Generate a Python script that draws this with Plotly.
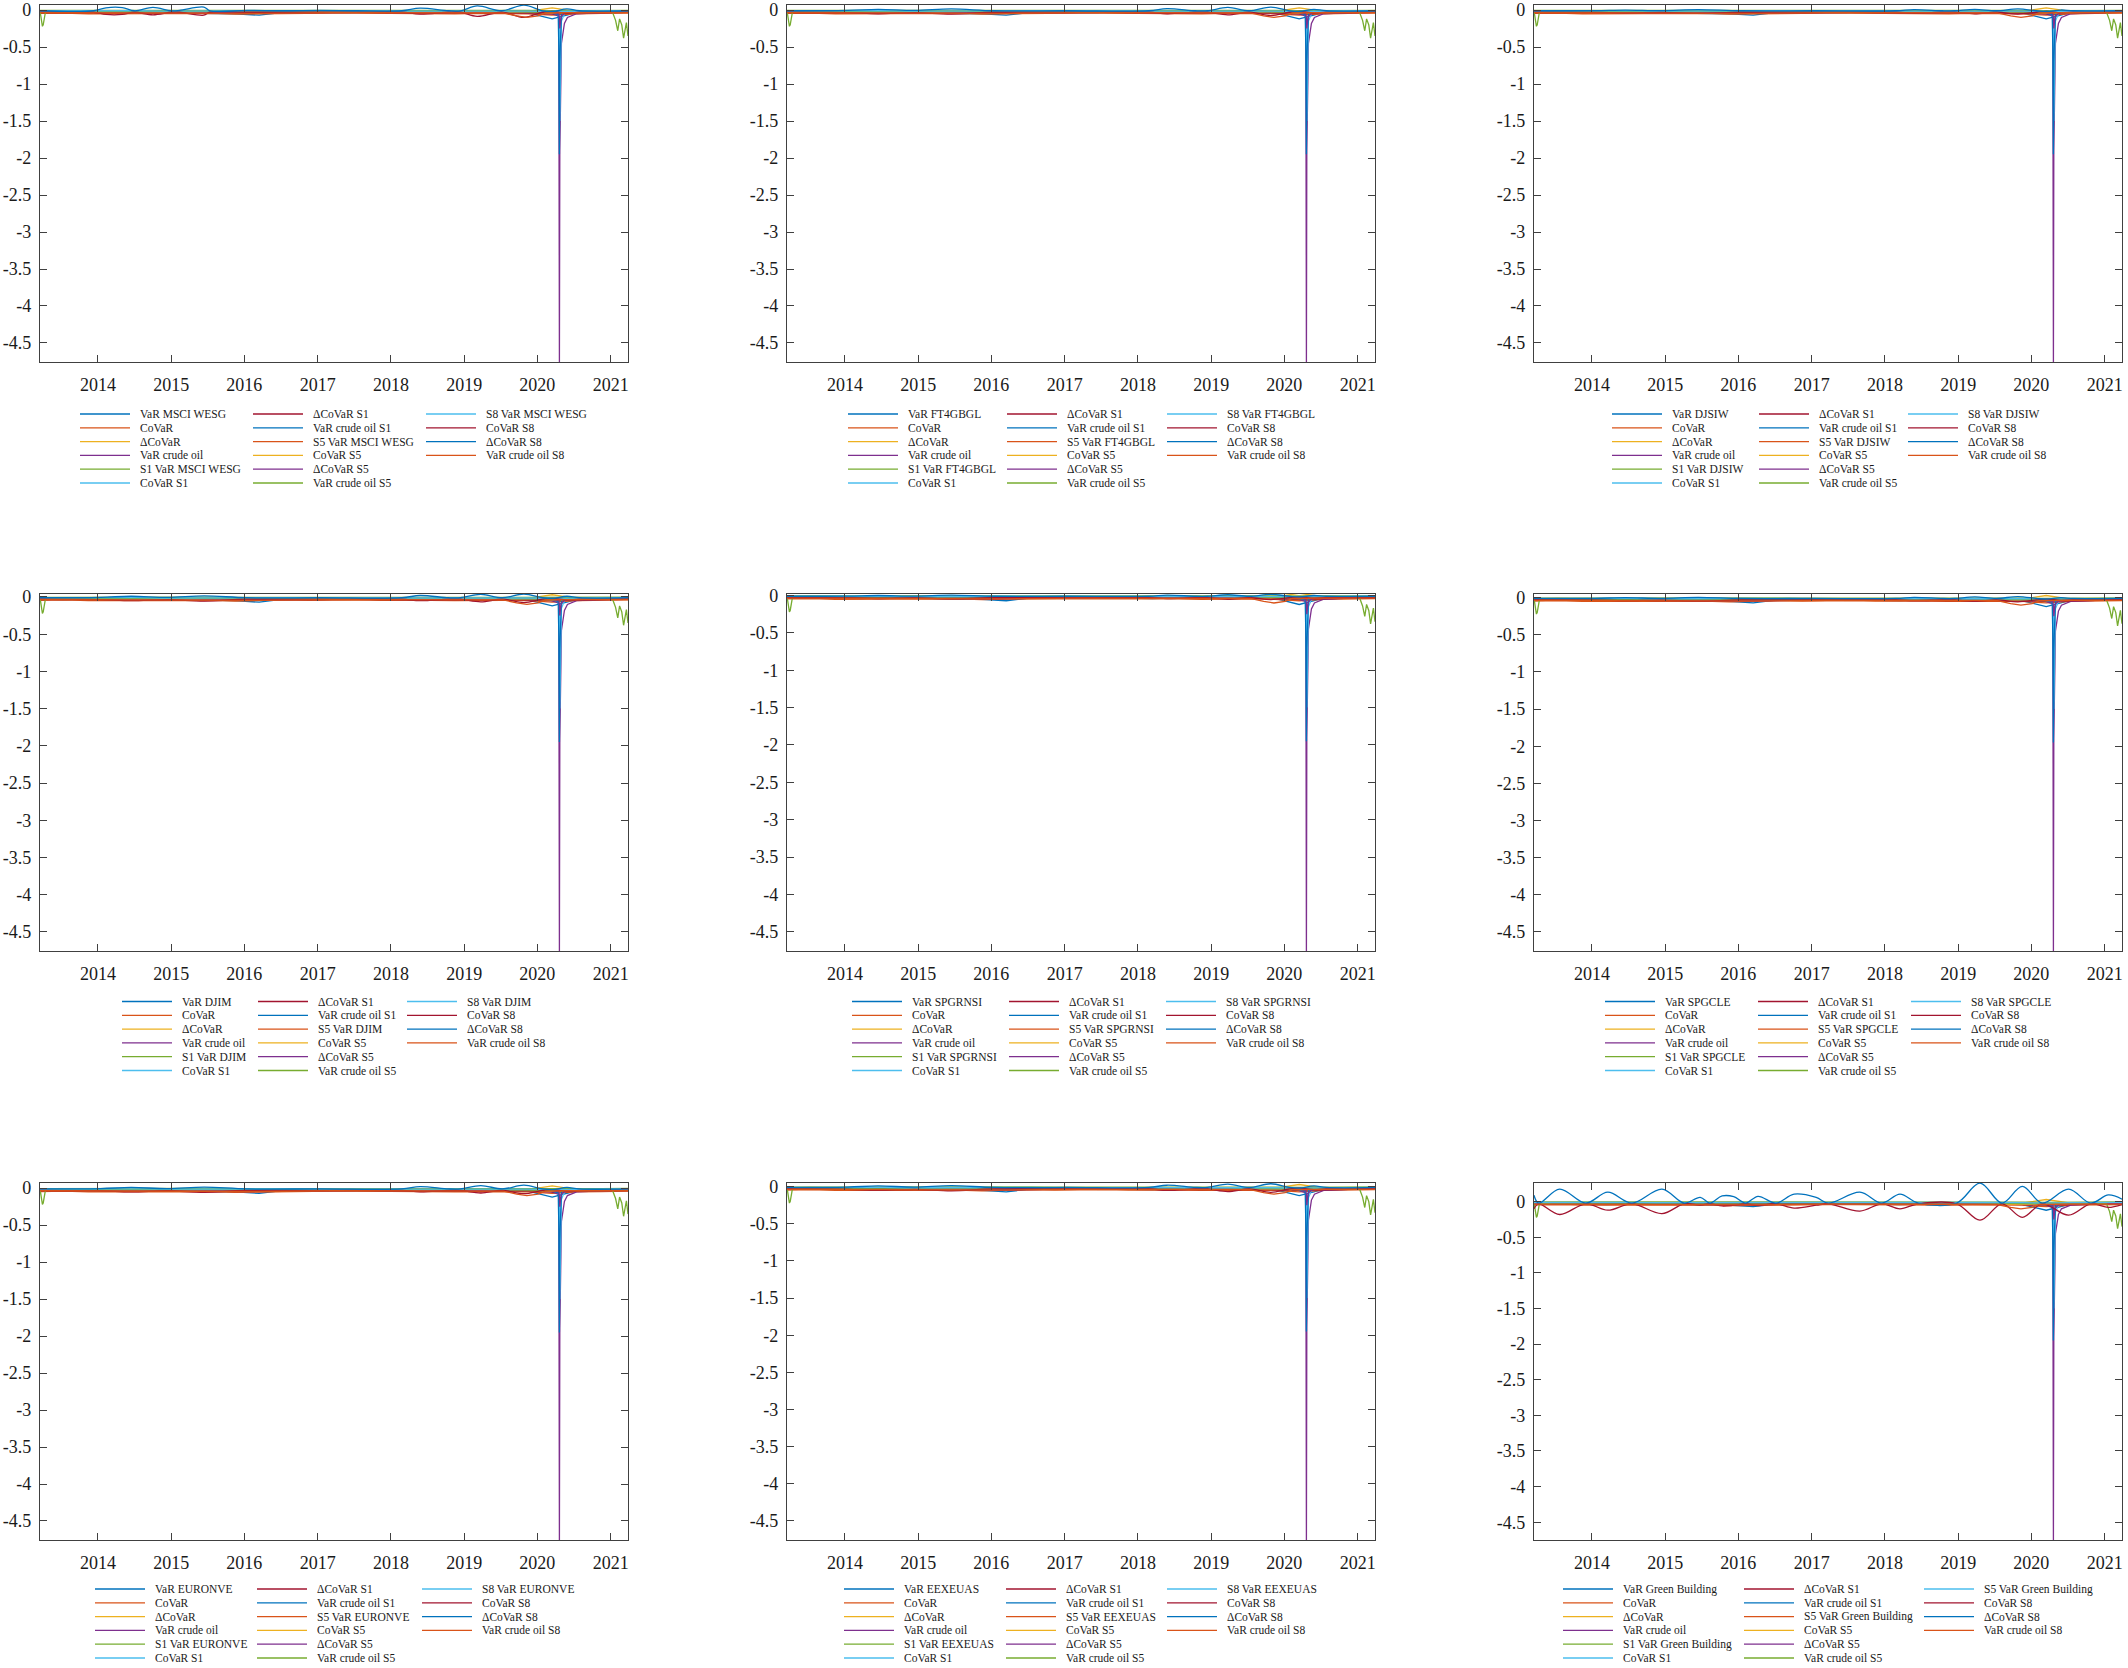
import plotly.graph_objects as go

W, H = 2128, 1668
FONT = "Liberation Serif"

# ---------------- data ----------------
ASSETS = ["MSCI WESG", "FT4GBGL", "DJSIW", "DJIM", "SPGRNSI", "SPGCLE",
          "EURONVE", "EEXEUAS", "Green Building"]
LABELS = ["VaR {a}", "CoVaR", "ΔCoVaR", "VaR crude oil",
          "S1 VaR {a}", "CoVaR S1", "ΔCoVaR S1", "VaR crude oil S1",
          "S5 VaR {a}", "CoVaR S5", "ΔCoVaR S5", "VaR crude oil S5",
          "{s} VaR {a}", "CoVaR S8", "ΔCoVaR S8", "VaR crude oil S8"]
LAST_SCALE = ["S8", "S8", "S8", "S8", "S8", "S8", "S8", "S8", "S5"]

YEAR_TICKS = ["2014-01-01", "2015-01-01", "2016-01-01", "2017-01-01",
              "2018-01-01", "2019-01-01", "2020-01-01", "2021-01-01"]
YEAR_LABELS = ["2014", "2015", "2016", "2017", "2018", "2019", "2020", "2021"]
Y_TICKS = [-4.5, -4, -3.5, -3, -2.5, -2, -1.5, -1, -0.5, 0]
Y_LABELS = ["-4.5", "-4", "-3.5", "-3", "-2.5", "-2", "-1.5", "-1", "-0.5", "0"]
X_RANGE = ["2013-03-18", "2021-03-28"]
Y_TOP = [0.068, 0.068, 0.068, 0.04, 0.02, 0.05, 0.07, 0.05, 0.262]
Y_BOTTOM = [-4.757, -4.757, -4.757, -4.757, -4.757, -4.757, -4.757, -4.757, -4.75]

GRID = ["2013-03-18", "2013-07-15", "2013-11-15", "2014-03-15", "2014-07-15", "2014-11-15",
        "2015-03-15", "2015-07-15", "2015-11-15", "2016-03-15", "2016-07-15", "2016-11-15",
        "2017-03-15", "2017-07-15", "2017-11-15", "2018-03-15", "2018-07-15", "2018-11-15",
        "2019-03-15", "2019-07-15", "2019-11-15", "2020-03-15", "2020-07-15", "2020-11-15",
        "2021-03-15", "2021-03-28"]
VAR_ASSET = [-0.03, -0.035, -0.03, -0.04, -0.03, -0.035, -0.04, -0.035, -0.05, -0.07, -0.03, -0.035,
             -0.03, -0.03, -0.035, -0.04, -0.03, -0.04, -0.035, -0.03, -0.04, -0.12, -0.035, -0.03,
             -0.03, -0.03]
COVAR = [-0.045, -0.04, -0.05, -0.05, -0.04, -0.045, -0.05, -0.045, -0.055, -0.05, -0.04, -0.045,
         -0.04, -0.04, -0.045, -0.05, -0.045, -0.05, -0.045, -0.045, -0.05, -0.07, -0.05, -0.045,
         -0.04, -0.04]
DCOVAR = [-0.015, -0.01, -0.015, -0.02, -0.012, -0.015, -0.02, -0.015, -0.02, -0.02, -0.012, -0.015,
          -0.012, -0.012, -0.015, -0.02, -0.015, -0.02, -0.015, -0.015, -0.02, 0.03, -0.02, -0.015,
          -0.012, -0.012]
S1_VAR = [-0.005, -0.004, -0.006, -0.005, -0.004, -0.006, -0.005, -0.004, -0.007, -0.006, -0.004, -0.005,
          -0.004, -0.004, -0.005, -0.006, -0.005, -0.006, -0.005, -0.005, -0.006, -0.01, -0.006, -0.005,
          -0.004, -0.004]
DCOVAR_S1 = [-0.035, -0.032, -0.038, -0.035, -0.032, -0.038, -0.035, -0.032, -0.04, -0.038, -0.032, -0.035,
             -0.032, -0.032, -0.035, -0.038, -0.035, -0.038, -0.035, -0.035, -0.038, -0.05, -0.038, -0.035,
             -0.032, -0.032]
S5_VAR = [-0.02, -0.018, -0.022, -0.02, -0.018, -0.022, -0.02, -0.018, -0.025, -0.022, -0.018, -0.02,
          -0.018, -0.018, -0.02, -0.022, -0.02, -0.022, -0.02, -0.02, -0.022, -0.03, -0.022, -0.02,
          -0.018, -0.018]
COVAR_S5 = [-0.03, -0.028, -0.032, -0.03, -0.028, -0.032, -0.03, -0.028, -0.035, -0.032, -0.028, -0.03,
            -0.028, -0.028, -0.03, -0.032, -0.03, -0.032, -0.03, -0.03, -0.032, -0.04, -0.032, -0.03,
            -0.028, -0.028]
S8_VAR = [-0.012, -0.01, -0.014, -0.012, -0.01, -0.014, -0.012, -0.01, -0.015, -0.014, -0.01, -0.012,
          -0.01, -0.01, -0.012, -0.014, -0.012, -0.014, -0.012, -0.012, -0.014, -0.02, -0.014, -0.012,
          -0.01, -0.01]

OIL_DATES = ["2013-03-18", "2013-09-15", "2014-03-15", "2014-09-15", "2015-03-15", "2015-09-15",
             "2016-03-15", "2016-09-15", "2017-03-15", "2017-09-15", "2018-03-15", "2018-09-15",
             "2019-03-15", "2019-09-15", "2020-03-10", "2020-04-14", "2020-04-17", "2020-04-20",
             "2020-04-22", "2020-04-27", "2020-04-30", "2020-05-15", "2020-05-30", "2020-07-15",
             "2020-11-15", "2021-03-28"]
VAR_OIL = [-0.03, -0.025, -0.03, -0.035, -0.04, -0.035, -0.045, -0.035, -0.03, -0.03, -0.035, -0.03,
           -0.035, -0.03, -0.05, -0.08, -0.1, -4.757, -1.9, -0.7, -0.45, -0.18, -0.1, -0.05,
           -0.035, -0.03]
VAR_OIL_S1 = [-0.02, -0.022, -0.02, -0.025, -0.03, -0.025, -0.03, -0.025, -0.02, -0.02, -0.025, -0.02,
              -0.025, -0.02, -0.04, -0.06, -0.5, -1.95, -0.7, -0.1, -0.05, -0.03, -0.025, -0.025,
              -0.02, -0.02]
COVAR_S1 = [-0.025, -0.022, -0.028, -0.025, -0.022, -0.028, -0.025, -0.022, -0.03, -0.028, -0.022, -0.025,
            -0.022, -0.022, -0.03, -0.05, -0.1, -0.3, -1.5, -0.35, -0.15, -0.05, -0.035, -0.03,
            -0.025, -0.025]
DCOVAR_S5 = [-0.028, -0.025, -0.03, -0.028, -0.025, -0.03, -0.028, -0.025, -0.032, -0.03, -0.025, -0.028,
             -0.025, -0.025, -0.03, -0.04, -0.05, -0.1, -0.25, -0.12, -0.08, -0.05, -0.035, -0.03,
             -0.028, -0.028]

OIL_S5_DATES = ["2013-03-18", "2013-03-24", "2013-03-30", "2013-04-03", "2013-04-08", "2013-04-14",
                "2013-06-15", "2014-03-15", "2015-03-15", "2016-03-15", "2017-03-15", "2018-03-15",
                "2019-03-15", "2020-03-15", "2020-06-15", "2020-11-15", "2021-01-10", "2021-01-25",
                "2021-02-05", "2021-02-14", "2021-02-25", "2021-03-06", "2021-03-14", "2021-03-20",
                "2021-03-28"]
VAR_OIL_S5 = [-0.01, -0.15, -0.22, -0.2, -0.1, -0.03, -0.02, -0.02, -0.015, -0.02, -0.015, -0.02,
              -0.015, -0.03, -0.02, -0.02, -0.03, -0.14, -0.28, -0.12, -0.2, -0.38, -0.22, -0.17, -0.35]

OIL_S8_DATES = ["2013-03-18", "2014-03-15", "2015-03-15", "2016-03-15", "2017-03-15", "2018-03-15",
                "2019-03-15", "2019-07-15", "2019-09-20", "2019-11-10", "2020-01-05", "2020-02-10",
                "2020-06-15", "2021-03-28"]
VAR_OIL_S8 = [-0.035, -0.04, -0.035, -0.045, -0.035, -0.04, -0.035, -0.04, -0.08, -0.1, -0.08, -0.04,
              -0.035, -0.035]

# oscillating S8 components (ΔCoVaR S8 above, CoVaR S8 below)
A_DATES = ["2013-03-18", "2013-12-10", "2014-02-10", "2014-05-02", "2014-07-02", "2014-10-02",
           "2015-01-01", "2015-02-12", "2015-06-13", "2015-07-13", "2016-01-15", "2016-07-15",
           "2017-01-15", "2017-07-15", "2018-02-24", "2018-05-26", "2018-10-15", "2018-12-14",
           "2019-03-07", "2019-07-07", "2019-10-26", "2020-01-26", "2020-03-17", "2020-05-27",
           "2020-07-28", "2021-03-28"]
A_UP = [-0.01, -0.01, 0.03, 0.033, -0.01, 0.035, -0.01, -0.005, 0.04, -0.01, -0.005, -0.01,
        -0.005, -0.01, -0.01, 0.025, -0.01, -0.01, 0.055, -0.01, 0.065, -0.01, -0.02, 0.015,
        -0.01, -0.01]
A_DN = [-0.03, -0.03, -0.06, -0.06, -0.03, -0.065, -0.03, -0.03, -0.07, -0.03, -0.03, -0.03,
        -0.03, -0.03, -0.03, -0.055, -0.03, -0.03, -0.085, -0.03, -0.1, -0.03, -0.02, -0.045,
        -0.03, -0.03]
B_DATES = ["2013-03-18", "2014-01-15", "2014-06-15", "2014-12-15", "2015-06-15", "2016-01-15",
           "2017-01-15", "2018-02-24", "2018-05-26", "2018-10-15", "2018-12-14", "2019-03-25",
           "2019-07-10", "2019-10-26", "2020-01-26", "2020-03-17", "2020-05-27", "2020-07-28",
           "2021-03-28"]
B_UP = [-0.01, -0.005, 0.01, -0.005, 0.015, -0.01, -0.01, -0.01, 0.02, -0.01, -0.01, 0.035,
        -0.01, 0.04, -0.01, -0.02, 0.01, -0.01, -0.01]
B_DN = [-0.03, -0.035, -0.05, -0.035, -0.055, -0.03, -0.03, -0.03, -0.05, -0.03, -0.03, -0.065,
        -0.03, -0.075, -0.03, -0.02, -0.04, -0.03, -0.03]
C_UP = [-0.01, -0.008, 0.0, -0.008, 0.005, -0.01, -0.01, -0.01, 0.005, -0.01, -0.01, 0.01,
        -0.01, 0.015, -0.01, -0.02, 0.0, -0.01, -0.01]
C_DN = [-0.03, -0.032, -0.04, -0.032, -0.045, -0.03, -0.03, -0.03, -0.04, -0.03, -0.03, -0.05,
        -0.03, -0.055, -0.03, -0.02, -0.035, -0.03, -0.03]
G_DATES = ["2013-03-18", "2013-04-10", "2013-07-24", "2013-12-01", "2014-03-21", "2014-07-19",
           "2014-12-16", "2015-04-06", "2015-06-25", "2015-08-12", "2015-10-12", "2015-12-09",
           "2016-02-06", "2016-04-08", "2016-07-07", "2016-10-05", "2017-01-23", "2017-03-25",
           "2017-08-29", "2017-12-16", "2018-03-17", "2018-06-16", "2018-12-24", "2019-04-20",
           "2019-08-08", "2019-11-17", "2020-02-24", "2020-07-05", "2020-10-23", "2021-01-19",
           "2021-03-28"]
G_UP = [0.09, -0.02, 0.176, -0.02, 0.133, -0.02, 0.176, -0.02, 0.06, -0.02, 0.08, 0.07,
        -0.02, 0.075, -0.02, 0.105, 0.06, -0.02, 0.133, -0.02, 0.105, -0.02, -0.02, 0.26,
        -0.02, 0.214, -0.02, 0.176, -0.02, 0.095, 0.035]
G_DN = [-0.1, -0.03, -0.18, -0.03, -0.12, -0.03, -0.167, -0.03, -0.05, -0.03, -0.06, -0.05,
        -0.03, -0.055, -0.03, -0.09, -0.05, -0.03, -0.133, -0.03, -0.1, -0.03, -0.03, -0.26,
        -0.03, -0.22, -0.03, -0.19, -0.03, -0.08, -0.04]

BUMPS = {"A": (A_DATES, A_UP, A_DN), "B": (B_DATES, B_UP, B_DN),
         "C": (B_DATES, C_UP, C_DN), "G": (G_DATES, G_UP, G_DN)}
PANEL_BUMP = ["A", "B", "C", "B", "C", "C", "B", "B", "G"]

COLORS = ["#0072BD", "#D95319", "#EDB120", "#7E2F8E", "#77AC30", "#4DBEEE", "#A2142F"]

# ---------------- layout positions (pixels) ----------------
COL_LEFT = [40, 787, 1534]
PANEL_W = 588
ROW_TOP = [5, 594, 1183]
PANEL_H = 357
LEG_OFF = [[40, 213, 386], [61, 220, 380], [78, 225, 374],
           [82, 218, 367], [65, 222, 379], [71, 224, 377],
           [55, 217, 382], [57, 219, 380], [29, 210, 390]]
LEG_FIRST = [414, 1001.5, 1589]
LEG_STEP = 13.8
LEG_LINE = 50
LEG_TEXT = 58

fig = go.Figure()
layout = dict(width=W, height=H, margin=dict(l=0, r=0, t=0, b=0, autoexpand=False),
              paper_bgcolor="white", plot_bgcolor="white", showlegend=False,
              font=dict(family=FONT, color="#1a1a1a"))
shapes, annotations = [], []

for p in range(9):
    r, c = divmod(p, 3)
    k = "" if p == 0 else str(p + 1)
    a = ASSETS[p]
    bd, up, dn = BUMPS[PANEL_BUMP[p]]
    series = [(GRID, VAR_ASSET), (GRID, COVAR), (GRID, DCOVAR), (OIL_DATES, VAR_OIL),
              (GRID, S1_VAR), (OIL_DATES, COVAR_S1), (GRID, DCOVAR_S1), (OIL_DATES, VAR_OIL_S1),
              (GRID, S5_VAR), (GRID, COVAR_S5), (OIL_DATES, DCOVAR_S5), (OIL_S5_DATES, VAR_OIL_S5),
              (GRID, S8_VAR), (bd, dn), (bd, up), (OIL_S8_DATES, VAR_OIL_S8)]
    for i, (xd, yv) in enumerate(series):
        name = LABELS[i].format(a=a, s=LAST_SCALE[p])
        color = COLORS[i % 7]
        fig.add_trace(go.Scatter(
            x=xd, y=yv, mode="lines", name=name, showlegend=False,
            line=dict(color=color, width=1.3,
                      shape="spline" if i in (13, 14) else "linear"),
            xaxis="x" + k, yaxis="y" + k))
        # legend entry (three columns: 6 / 6 / 4 entries)
        col = 0 if i < 6 else (1 if i < 12 else 2)
        row_in = i - 6 * col
        lx = COL_LEFT[c] + LEG_OFF[p][col]
        ly = 1 - (LEG_FIRST[r] + row_in * LEG_STEP) / H
        shapes.append(dict(type="line", xref="paper", yref="paper",
                           x0=lx / W, x1=(lx + LEG_LINE) / W, y0=ly, y1=ly,
                           line=dict(color=color, width=1.3)))
        annotations.append(dict(xref="paper", yref="paper", x=(lx + LEG_TEXT) / W, y=ly,
                                xanchor="left", yanchor="middle", showarrow=False,
                                text=name, font=dict(family=FONT, size=11.5, color="#1a1a1a")))

    x0 = COL_LEFT[c] / W
    x1 = (COL_LEFT[c] + PANEL_W) / W
    y1 = 1 - ROW_TOP[r] / H
    y0 = 1 - (ROW_TOP[r] + PANEL_H) / H
    axcommon = dict(showline=True, linecolor="#404040", linewidth=1.2, mirror="ticks",
                    ticks="inside", ticklen=7, tickcolor="#404040", tickwidth=1.2,
                    showgrid=False, zeroline=False, ticklabeloverflow="allow",
                    tickfont=dict(family=FONT, size=18, color="#1a1a1a"))
    layout["xaxis" + k] = dict(domain=[x0, x1], anchor="y" + k, type="date",
                               range=X_RANGE, tickvals=YEAR_TICKS, ticktext=YEAR_LABELS,
                               ticklabelstandoff=6, **axcommon)
    layout["yaxis" + k] = dict(domain=[y0, y1], anchor="x" + k,
                               range=[Y_BOTTOM[p], Y_TOP[p]], tickvals=Y_TICKS, ticktext=Y_LABELS,
                               ticklabelstandoff=4, **axcommon)

layout["shapes"] = shapes
layout["annotations"] = annotations
fig.update_layout(**layout)
fig.write_html("out.html", config={"displayModeBar": False},
               post_script="document.body.style.margin='0';document.body.style.overflow='hidden';")
